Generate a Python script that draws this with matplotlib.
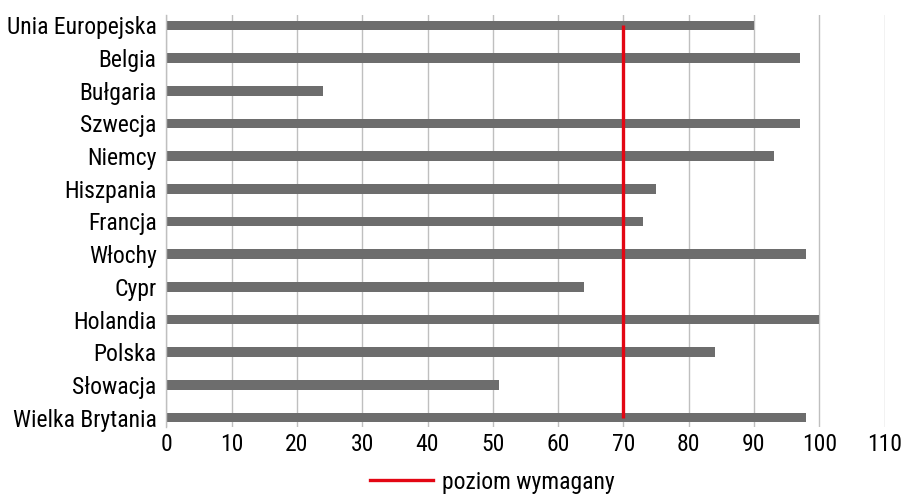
import matplotlib
matplotlib.use("Agg")
import matplotlib.pyplot as plt
from matplotlib.lines import Line2D

categories = ["Unia Europejska", "Belgia", "Bułgaria", "Szwecja", "Niemcy", "Hiszpania",
              "Francja", "Włochy", "Cypr", "Holandia", "Polska", "Słowacja", "Wielka Brytania"]
values = [90, 97, 24, 97, 93, 75, 73, 98, 64, 100, 84, 51, 98]
required_level = 70
x_ticks = [0, 10, 20, 30, 40, 50, 60, 70, 80, 90, 100, 110]
legend_label = "poziom wymagany"

plt.rcParams["font.family"] = ["Roboto Condensed", "DejaVu Sans"]

W, H = 904, 494
fig = plt.figure(figsize=(W / 100, H / 100), dpi=100)
left, right = 166.3 / W, 884.6 / W
top_px, bot_px = 15, 427
ax = fig.add_axes([left, 1 - bot_px / H, right - left, (bot_px - top_px) / H])

step = 32.67
bar_color = "#6d6d6d"
ypos = list(range(len(categories)))
ax.barh(ypos, values, height=0.3, color=bar_color, zorder=2)
ax.plot([required_level, required_level], [0, 12], color="#e30613", lw=2.4, zorder=3,
        solid_capstyle="butt")

ax.set_xlim(0, 110)
ax.set_ylim(12 + 9.5 / step, -10.5 / step)
ax.set_xticks(x_ticks)
ax.set_xticklabels([str(t) for t in x_ticks], fontsize=17)
ax.set_yticks(ypos)
ax.set_yticklabels(categories, fontsize=17)
ax.tick_params(axis="both", length=0, colors="black")
ax.tick_params(axis="x", pad=4)
ax.tick_params(axis="y", pad=7)
ax.grid(axis="x", color="#bfbfbf", lw=1.0, zorder=0)
for s in ["top", "right", "bottom"]:
    ax.spines[s].set_visible(False)
ax.spines["left"].set_color("#bfbfbf")
ax.spines["left"].set_linewidth(1.0)

handle = Line2D([0], [0], color="#e30613", lw=2.4)
fig.legend([handle], [legend_label], loc="center", bbox_to_anchor=(492.5 / W, 1 - 482 / H),
           frameon=False, fontsize=17, handlelength=2.65, handletextpad=0.4)
fig.savefig("out.png", dpi=100)
